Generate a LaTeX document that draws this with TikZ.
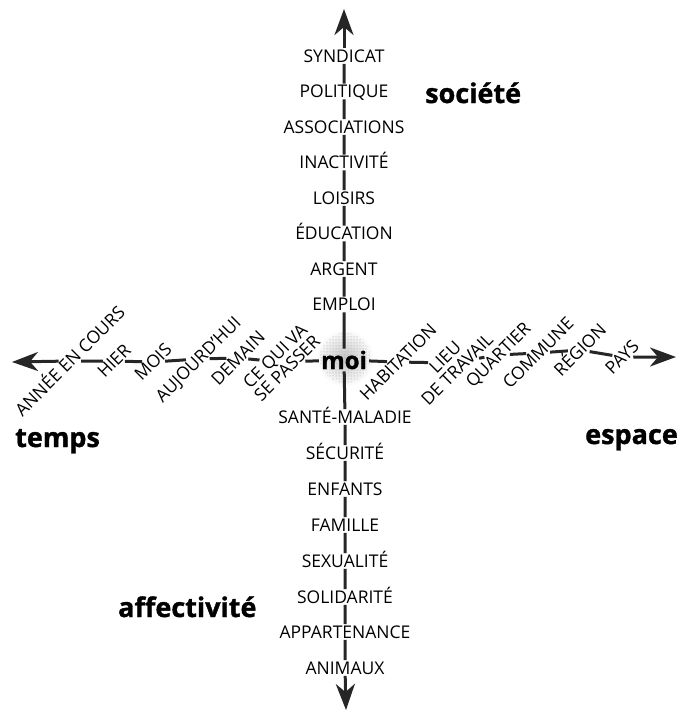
\documentclass[tikz,border=0pt]{standalone}
\usepackage{fontspec}
\setmainfont{Open Sans}
\newfontfamily\heavyfont{Open Sans}[BoldFeatures={FakeBold=1.2}]
\usetikzlibrary{arrows.meta,patterns}
\begin{document}
\begin{tikzpicture}[x=1pt,y=-1pt,
  lab/.style={font=\fontsize{17.5}{18}\selectfont, fill=white, inner sep=1.5pt, text height=12.5pt, text depth=0pt},
  hlab/.style={lab, rotate=45},
  hlabtwo/.style={font=\fontsize{17.5}{17}\selectfont, fill=white, inner sep=1.5pt, align=center, rotate=45},
  cat/.style={font=\heavyfont\fontsize{27}{30}\selectfont\bfseries, inner sep=0pt},
  axis/.style={line width=3pt, draw=black!85},
  tip/.style={-{Stealth[length=26pt,width=19pt,inset=8pt]}}
]
\useasboundingbox (0,0) rectangle (681,712);

% stippled halo behind "moi"
\shade[inner color=gray!45, outer color=white] (345,358) circle (29);
\fill[pattern=dots, pattern color=gray!75] (345,358) circle (25);

% vertical axis labels
\node[lab] (syndicat)     at (344,56)    {SYNDICAT};
\node[lab] (politique)    at (344,91.5)  {POLITIQUE};
\node[lab] (associations) at (344,127)   {ASSOCIATIONS};
\node[lab] (inactivite)   at (344,162.5) {INACTIVITÉ};
\node[lab] (loisirs)      at (344,198)   {LOISIRS};
\node[lab] (education)    at (344,233.5) {ÉDUCATION};
\node[lab] (argent)       at (344,269)   {ARGENT};
\node[lab] (emploi)       at (344,304.5) {EMPLOI};

\node[lab] (sante)        at (345,417) {SANTÉ-MALADIE};
\node[lab] (securite)     at (345,453) {SÉCURITÉ};
\node[lab] (enfants)      at (345,489) {ENFANTS};
\node[lab] (famille)      at (345,525) {FAMILLE};
\node[lab] (sexualite)    at (345,561) {SEXUALITÉ};
\node[lab] (solidarite)   at (345,597) {SOLIDARITÉ};
\node[lab] (appartenance) at (345,632) {APPARTENANCE};
\node[lab] (animaux)      at (345,668) {ANIMAUX};

% centre
\node[font=\heavyfont\fontsize{24}{26}\selectfont\bfseries, inner sep=2pt] (moi) at (344,360) {moi};

% horizontal axis labels
\node[hlab] (annee)      at (70,361)  {ANNÉE EN COURS};
\node[hlab] (hier)       at (114,361) {HIER};
\node[hlab] (mois)       at (153,362) {MOIS};
\node[hlab] (aujourdhui) at (198,359) {AUJOURD’HUI};
\node[hlab] (demain)     at (238,358) {DEMAIN};
\node[hlabtwo] (cequiva) at (281,362) {CE QUI VA\\SE PASSER};
\node[hlab] (habitation) at (398,362) {HABITATION};
\node[hlabtwo] (lieu)    at (451,363) {LIEU\\DE TRAVAIL};
\node[hlab] (quartier)   at (498,355) {QUARTIER};
\node[hlab] (commune)    at (538,353) {COMMUNE};
\node[hlab] (region)     at (580,350) {RÉGION};
\node[hlab] (pays)       at (622,357) {PAYS};

% arrow ends
\coordinate (topend)   at (344,9);
\coordinate (botend)   at (346,710);
\coordinate (leftend)  at (12,362);
\coordinate (rightend) at (676,357);

% axes
\draw[axis,tip] (syndicat) -- (topend);
\draw[axis] (syndicat) -- (politique) -- (associations) -- (inactivite) -- (loisirs)
  -- (education) -- (argent) -- (emploi) -- (moi) -- (sante) -- (securite) -- (enfants)
  -- (famille) -- (sexualite) -- (solidarite) -- (appartenance) -- (animaux);
\draw[axis,tip] (animaux) -- (botend);

\draw[axis,tip] (annee) -- (leftend);
\draw[axis] (annee) -- (hier) -- (mois) -- (aujourdhui) -- (demain) -- (cequiva) -- (moi)
  -- (habitation) -- (lieu) -- (quartier) -- (commune) -- (region) -- (pays);
\draw[axis,tip] (pays) -- (rightend);

% domain names
\node[cat, anchor=base west] (societe)     at (425,103) {société};
\node[cat, anchor=base west] (temps)       at (15,447)  {temps};
\node[cat, anchor=base east] (espace)      at (678,444) {espace};
\node[cat, anchor=base west] (affectivite) at (118,617) {affectivité};
\end{tikzpicture}
\end{document}
